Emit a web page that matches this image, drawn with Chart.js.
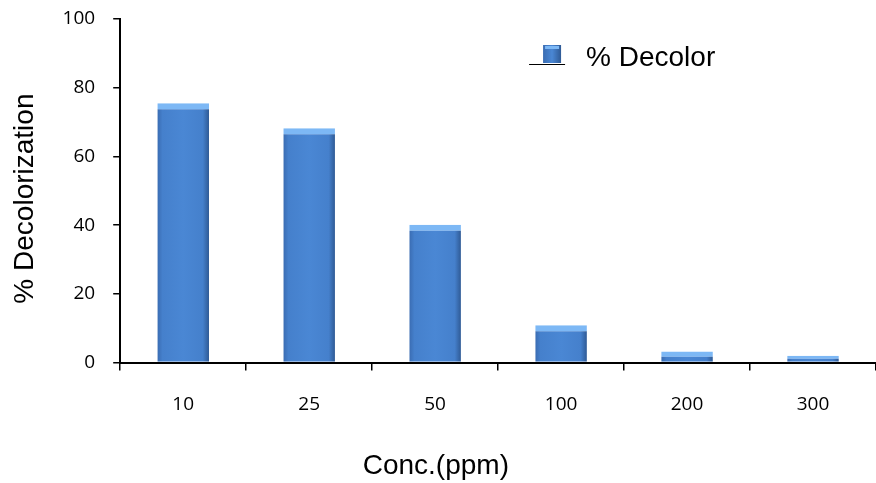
<!DOCTYPE html>
<html lang="en">
<head>
  <meta charset="UTF-8">
  <title>% Decolorization vs Concentration</title>
  <script src="https://cdn.jsdelivr.net/npm/chart.js"></script>
  <style>
    body { margin: 0; padding: 0; background: #fff; }
    .chart-box { width: 876px; height: 483px; }
  </style>
</head>
<body>
  <div class="chart-box">
    <canvas id="decolorChart"></canvas>
  </div>
  <script>
    // Chart data
    const concLabels = ['10', '25', '50', '100', '200', '300'];
    const decolorValues = [75.5, 68.2, 40.1, 10.9, 3.2, 2.0];
    const seriesName = '% Decolor';
    const barShare = 0.41;

    // Horizontal shading for each bar, like the 3D bars in the original
    function barFill(context) {
      const chart = context.chart;
      const xs = chart.scales.x;
      if (!chart.chartArea || !xs || !xs.width) return '#4a86d4';
      const w = xs.width / concLabels.length * barShare;
      const left = xs.getPixelForValue(context.dataIndex) - w / 2;
      const g = chart.ctx.createLinearGradient(left, 0, left + w, 0);
      g.addColorStop(0, '#3a6cb2');
      g.addColorStop(0.1, '#4580cc');
      g.addColorStop(0.5, '#4a87d4');
      g.addColorStop(0.88, '#4580cc');
      g.addColorStop(1, '#2f5a95');
      return g;
    }

    // Legend drawn inside the plot area (top right)
    const insideLegend = {
      id: 'insideLegend',
      afterDraw(chart) {
        const { ctx, chartArea } = chart;
        const x = chartArea.left + (chartArea.right - chartArea.left) * 0.5595;
        const y = chartArea.top + 26;
        ctx.save();
        const g = ctx.createLinearGradient(x, 0, x + 18, 0);
        g.addColorStop(0, '#3a6cb2');
        g.addColorStop(0.5, '#4a87d4');
        g.addColorStop(1, '#2f5a95');
        ctx.fillStyle = g;
        ctx.fillRect(x, y, 18, 18);
        ctx.fillStyle = '#7db8f5';
        ctx.fillRect(x + 2, y + 1, 14, 3);
        ctx.strokeStyle = '#000';
        ctx.lineWidth = 1;
        ctx.beginPath();
        ctx.moveTo(x - 14, y + 19.5);
        ctx.lineTo(x + 22, y + 19.5);
        ctx.stroke();
        ctx.fillStyle = '#000';
        ctx.font = '28px "Liberation Sans", Arial, sans-serif';
        ctx.textBaseline = 'middle';
        ctx.fillText(seriesName, x + 43, y + 13);
        ctx.restore();
      }
    };

    const nb = n => '\u00a0'.repeat(n);

    const ctx = document.getElementById('decolorChart').getContext('2d');
    new Chart(ctx, {
      type: 'bar',
      data: {
        labels: concLabels,
        datasets: [{
          label: seriesName,
          data: decolorValues,
          backgroundColor: barFill,
          borderColor: '#7db8f5',
          borderWidth: { top: 6, left: 0, right: 0, bottom: 0 },
          borderSkipped: false,
          categoryPercentage: 1.0,
          barPercentage: barShare
        }]
      },
      options: {
        responsive: true,
        maintainAspectRatio: false,
        animation: false,
        layout: { padding: { top: 0, right: 0, bottom: 0, left: 8 } },
        plugins: {
          legend: { display: false },
          tooltip: { enabled: false }
        },
        scales: {
          x: {
            grid: {
              offset: true,
              drawOnChartArea: false,
              drawTicks: true,
              tickLength: 8,
              color: '#000',
              lineWidth: 1.5
            },
            border: { display: true, color: '#000', width: 2 },
            ticks: {
              color: '#000',
              padding: 23,
              font: { family: '"Open Sans", "DejaVu Sans", sans-serif', size: 19 }
            },
            title: {
              display: true,
              text: 'Conc.(ppm)' + nb(16),
              color: '#000',
              padding: { top: 10, bottom: 0 },
              font: { family: '"Liberation Sans", Arial, sans-serif', size: 28 }
            }
          },
          y: {
            min: 0,
            max: 100,
            afterFit(scale) {
              scale.paddingTop = 19;
            },
            grid: {
              drawOnChartArea: false,
              drawTicks: true,
              tickLength: 7,
              color: '#000',
              lineWidth: 1.5
            },
            border: { display: true, color: '#000', width: 2 },
            ticks: {
              stepSize: 20,
              color: '#000',
              padding: 18,
              font: { family: '"Open Sans", "DejaVu Sans", sans-serif', size: 19 }
            },
            title: {
              display: true,
              text: '% Decolorization' + nb(2),
              color: '#000',
              padding: { top: 0, bottom: 3 },
              font: { family: '"Liberation Sans", Arial, sans-serif', size: 28 }
            }
          }
        }
      },
      plugins: [insideLegend]
    });
  </script>
</body>
</html>
